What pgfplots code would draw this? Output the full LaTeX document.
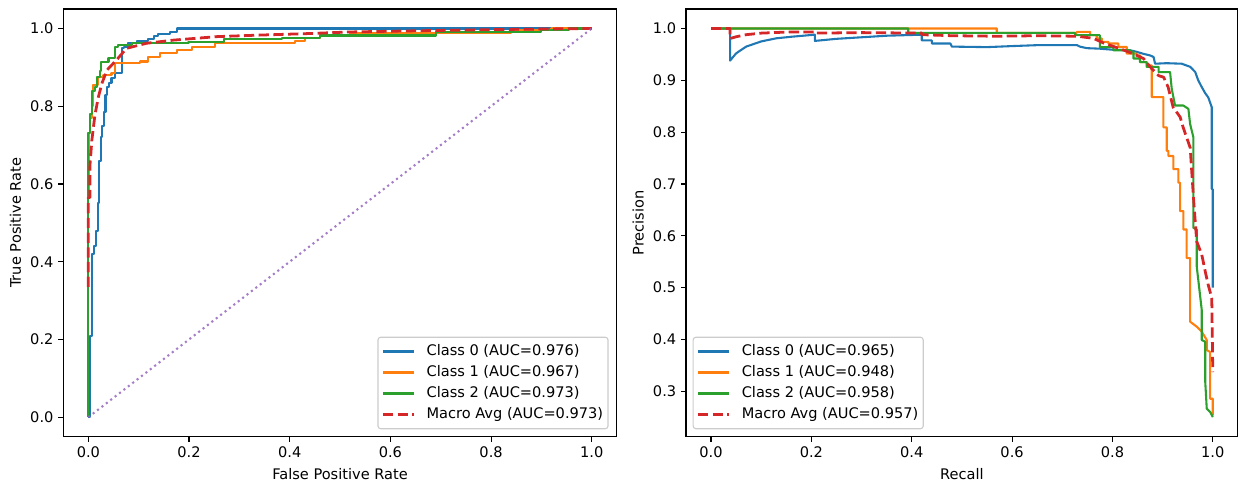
\documentclass[border=0pt]{standalone}
\usepackage{fontspec}
\setmainfont{DejaVu Sans}
\usepackage{pgfplots}
\pgfplotsset{compat=1.18}
\definecolor{tabblue}{HTML}{1F77B4}
\definecolor{taborange}{HTML}{FF7F0E}
\definecolor{tabgreen}{HTML}{2CA02C}
\definecolor{tabred}{HTML}{D62728}
\definecolor{tabpurple}{HTML}{9467BD}
\pgfplotsset{
  mpl/.style={
    scale only axis, height=307.9pt,
    axis line style={line width=0.8pt, black},
    tick style={line width=0.8pt, black},
    major tick length=3.5pt, tick align=outside, tick pos=left,
    ticklabel style={font=\fontsize{10.5}{12.6}\selectfont},
    /pgf/number format/assume math mode=true,
    xticklabel style={/pgf/number format/fixed, /pgf/number format/fixed zerofill, /pgf/number format/precision=1},
    yticklabel style={/pgf/number format/fixed, /pgf/number format/fixed zerofill, /pgf/number format/precision=1},
    label style={font=\fontsize{10.5}{12.6}\selectfont},
    xlabel style={at={([yshift=-30.5pt]axis description cs:0.5,0)}, anchor=base},
    ylabel style={at={([xshift=-30.5pt]axis description cs:0,0.5)}, anchor=base, rotate=0},
    legend cell align=left,
    legend image code/.code={\draw[#1] (0pt,0pt) -- (22.3pt,0pt); \path (29.5pt,0pt);},
    legend style={font=\fontsize{10.5}{12.6}\selectfont, draw=black!20, line width=0.8pt,
      rounded corners=2pt, fill=white, fill opacity=0.8, text opacity=1,
      inner xsep=2.5pt, inner ysep=4.3pt, row sep=3.1pt,
      nodes={inner sep=1pt, text height=7.9pt, text depth=2.1pt}},
    every axis plot/.append style={line width=1.5pt, line join=round},
  },
  c0/.style={tabblue}, c1/.style={taborange}, c2/.style={tabgreen},
  cm/.style={tabred, line width=2pt, dash pattern=on 7.4pt off 3.2pt},
}
\begin{document}
\begin{tikzpicture}
\useasboundingbox (-45.5pt,-34.8pt) rectangle (845.9pt,314.4pt);
% ROC
\begin{axis}[mpl, at={(0pt,0pt)}, anchor=south west, width=398.7pt,
  xmin=-0.05, xmax=1.05, ymin=-0.05, ymax=1.05,
  xtick={0,0.2,0.4,0.6,0.8,1.0}, ytick={0,0.2,0.4,0.6,0.8,1.0},
  xlabel={False Positive Rate}, ylabel={True Positive Rate},
  legend style={at={(1,0)}, anchor=south east, xshift=-6pt, yshift=5.3pt}]
\addplot[c0] coordinates {(0,0) (0.003,0) (0.003,0.04) (0.003,0.21) (0.007,0.21) (0.007,0.42) (0.011,0.42) (0.011,0.44) (0.015,0.44) (0.015,0.48) (0.019,0.48) (0.019,0.55) (0.021,0.55) (0.021,0.66) (0.025,0.66) (0.025,0.72) (0.028,0.72) (0.028,0.75) (0.031,0.75) (0.031,0.785) (0.034,0.785) (0.034,0.83) (0.037,0.83) (0.037,0.85) (0.041,0.85) (0.041,0.86) (0.046,0.86) (0.046,0.872) (0.053,0.872) (0.053,0.885) (0.066,0.885) (0.066,0.949) (0.07,0.949) (0.07,0.953) (0.079,0.953) (0.079,0.963) (0.096,0.963) (0.096,0.968) (0.119,0.968) (0.119,0.974) (0.13,0.974) (0.13,0.98) (0.139,0.98) (0.139,0.985) (0.162,0.985) (0.162,0.992) (0.176,0.992) (0.176,1.0) (1.0,1.0)};
\addlegendentry{Class 0 (AUC=0.976)}
\addplot[c1] coordinates {(0,0) (0,0.57) (0.002,0.57) (0.002,0.73) (0.004,0.73) (0.004,0.77) (0.007,0.77) (0.007,0.8) (0.01,0.8) (0.01,0.854) (0.02,0.854) (0.02,0.876) (0.03,0.876) (0.03,0.88) (0.046,0.88) (0.046,0.886) (0.053,0.886) (0.053,0.91) (0.103,0.91) (0.103,0.915) (0.119,0.915) (0.119,0.927) (0.142,0.927) (0.142,0.936) (0.176,0.936) (0.176,0.944) (0.205,0.944) (0.205,0.953) (0.252,0.953) (0.252,0.962) (0.41,0.962) (0.41,0.968) (0.43,0.968) (0.43,0.975) (0.46,0.975) (0.46,0.982) (0.52,0.982) (0.52,0.988) (0.84,0.988) (0.84,0.995) (0.92,0.995) (0.92,1.0) (1.0,1.0)};
\addlegendentry{Class 1 (AUC=0.967)}
\addplot[c2] coordinates {(0,0) (0,0.73) (0.003,0.73) (0.003,0.78) (0.008,0.78) (0.008,0.84) (0.013,0.84) (0.013,0.85) (0.017,0.85) (0.017,0.876) (0.023,0.876) (0.023,0.89) (0.026,0.89) (0.026,0.914) (0.04,0.914) (0.04,0.923) (0.053,0.923) (0.053,0.953) (0.059,0.953) (0.059,0.957) (0.086,0.957) (0.086,0.962) (0.199,0.962) (0.199,0.965) (0.27,0.965) (0.27,0.972) (0.384,0.972) (0.384,0.975) (0.46,0.975) (0.46,0.982) (0.69,0.982) (0.69,0.99) (0.9,0.99) (0.9,0.995) (0.955,0.995) (0.955,1.0) (1.0,1.0)};
\addlegendentry{Class 2 (AUC=0.973)}
\addplot[cm] coordinates {(0,0.335) (0,0.565) (0.003,0.565) (0.003,0.645) (0.007,0.713) (0.013,0.777) (0.02,0.824) (0.027,0.859) (0.037,0.893) (0.056,0.919) (0.076,0.949) (0.116,0.962) (0.169,0.97) (0.255,0.979) (0.341,0.983) (0.44,0.987) (0.52,0.991) (0.65,0.994) (0.8,0.997) (1.0,1.0)};
\addlegendentry{Macro Avg (AUC=0.973)}
\addplot[tabpurple, opacity=0.85, line width=1.5pt, dash pattern=on 1.5pt off 2.5pt, forget plot] coordinates {(0,0) (1,1)};
\end{axis}
% PR
\begin{axis}[mpl, at={(448.4pt,0pt)}, anchor=south west, width=397.4pt,
  xmin=-0.05, xmax=1.05, ymin=0.2125, ymax=1.0375,
  xtick={0,0.2,0.4,0.6,0.8,1.0}, ytick={0.3,0.4,0.5,0.6,0.7,0.8,0.9,1.0},
  xlabel={Recall}, ylabel={Precision},
  legend style={at={(0,0)}, anchor=south west, xshift=4.8pt, yshift=5.3pt}]
\addplot[c0] coordinates {(0,1.0) (0.038,1.0) (0.038,0.938) (0.05,0.952) (0.07,0.965) (0.1,0.975) (0.13,0.981) (0.16,0.984) (0.207,0.988) (0.207,0.976) (0.25,0.980) (0.3,0.983) (0.35,0.986) (0.42,0.988) (0.42,0.977) (0.44,0.977) (0.44,0.971) (0.477,0.971) (0.48,0.965) (0.55,0.964) (0.6,0.966) (0.656,0.968) (0.729,0.968) (0.735,0.965) (0.749,0.962) (0.775,0.961) (0.8,0.959) (0.835,0.958) (0.848,0.955) (0.862,0.951) (0.875,0.948) (0.882,0.945) (0.885,0.932) (0.908,0.933) (0.938,0.932) (0.955,0.926) (0.965,0.916) (0.971,0.90) (0.978,0.887) (0.985,0.875) (0.991,0.867) (0.998,0.848) (0.998,0.69) (1.0,0.69) (1.0,0.5)};
\addlegendentry{Class 0 (AUC=0.965)}
\addplot[c1] coordinates {(0,1.0) (0.5694,1.0) (0.5694,0.9915) (0.729,0.9915) (0.729,0.9934) (0.7555,0.9934) (0.7555,0.987) (0.7688,0.987) (0.7688,0.9806) (0.7788,0.9806) (0.7788,0.974) (0.792,0.974) (0.792,0.971) (0.8119,0.971) (0.8119,0.9643) (0.8286,0.9643) (0.8286,0.9515) (0.8485,0.9515) (0.8485,0.9482) (0.8551,0.9482) (0.8551,0.9352) (0.8685,0.9352) (0.8685,0.9288) (0.8784,0.9288) (0.8784,0.8674) (0.9016,0.8674) (0.9016,0.8092) (0.9083,0.8092) (0.9083,0.764) (0.9116,0.764) (0.9116,0.754) (0.9215,0.754) (0.9215,0.7285) (0.9315,0.7285) (0.9315,0.7025) (0.9348,0.7025) (0.9348,0.6477) (0.9415,0.6477) (0.9415,0.6122) (0.948,0.6122) (0.948,0.557) (0.9548,0.557) (0.9548,0.4344) (0.968,0.4247) (0.978,0.415) (0.988,0.399) (0.988,0.3795) (0.9946,0.376) (0.9946,0.2856) (1.0,0.2856) (1.0,0.2534)};
\addlegendentry{Class 1 (AUC=0.948)}
\addplot[c2] coordinates {(0,1.0) (0.393,1.0) (0.393,0.9915) (0.7255,0.9915) (0.7255,0.987) (0.775,0.987) (0.775,0.964) (0.802,0.964) (0.802,0.958) (0.835,0.958) (0.835,0.955) (0.842,0.955) (0.842,0.942) (0.855,0.942) (0.855,0.935) (0.868,0.935) (0.868,0.926) (0.892,0.926) (0.892,0.9158) (0.9149,0.9158) (0.9182,0.8837) (0.9248,0.8513) (0.9414,0.8513) (0.9514,0.8449) (0.9548,0.8158) (0.9614,0.7898) (0.9614,0.6154) (0.968,0.6122) (0.968,0.541) (0.978,0.457) (0.978,0.399) (0.985,0.3956) (0.985,0.318) (0.988,0.2663) (0.995,0.26) (1.0,0.2501)};
\addlegendentry{Class 2 (AUC=0.958)}
\addplot[cm] coordinates {(0,1.0) (0.038,1.0) (0.038,0.9806) (0.05,0.984) (0.07,0.988) (0.1,0.991) (0.15,0.993) (0.207,0.9934) (0.207,0.991) (0.3,0.992) (0.42,0.991) (0.42,0.988) (0.48,0.986) (0.57,0.985) (0.65,0.986) (0.73,0.985) (0.762,0.981) (0.782,0.972) (0.815,0.961) (0.842,0.951) (0.862,0.942) (0.875,0.926) (0.892,0.909) (0.902,0.906) (0.911,0.887) (0.921,0.848) (0.935,0.829) (0.941,0.809) (0.955,0.77) (0.958,0.725) (0.962,0.667) (0.968,0.589) (0.978,0.564) (0.985,0.531) (0.991,0.505) (0.998,0.48) (1.0,0.337)};
\addlegendentry{Macro Avg (AUC=0.957)}
\end{axis}
\end{tikzpicture}
\end{document}
